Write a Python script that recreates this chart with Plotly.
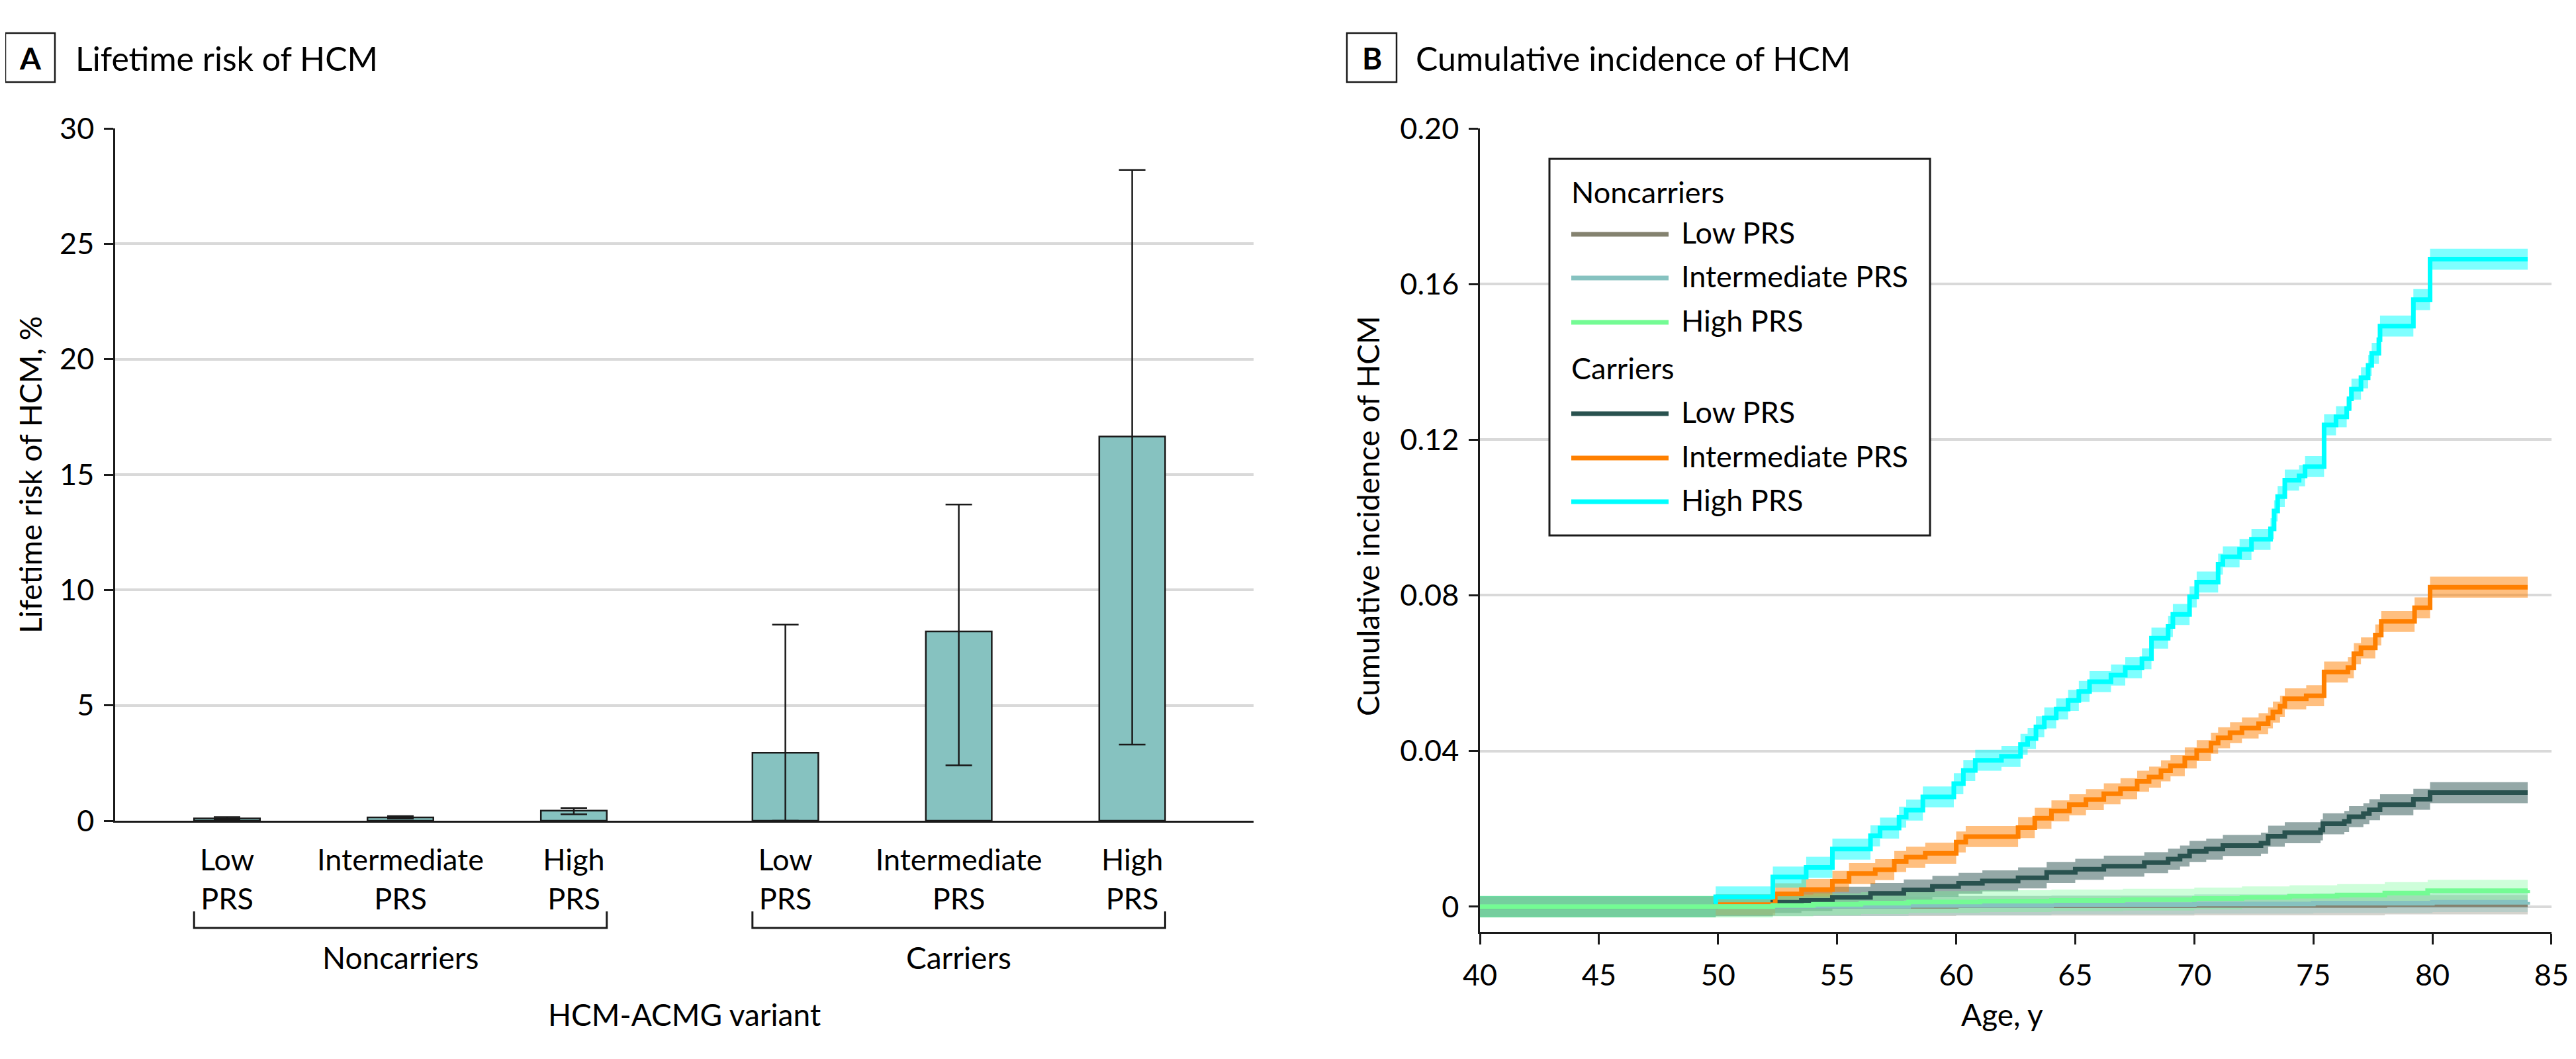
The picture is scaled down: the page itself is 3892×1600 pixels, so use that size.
import plotly.graph_objects as go

# page frame (reference pixels) and the body margin the browser adds around the plot
PAGE_W, PAGE_H = 3892, 1600
OFF = 8
W, H = PAGE_W - 2 * OFF, PAGE_H - 2 * OFF
FONT = "Lato"
BLACK = "#1a1a1a"

# ---------------- Panel A data ----------------
groups = ["Noncarriers", "Carriers"]
prs_labels = ["Low<br>PRS", "Intermediate<br>PRS", "High<br>PRS"]
risk_pct = [0.10, 0.14, 0.44, 2.95, 8.2, 16.65]
ci_low_pct = [0.05, 0.09, 0.28, 0.0, 2.4, 3.3]
ci_high_pct = [0.16, 0.20, 0.55, 8.5, 13.7, 28.2]
yticks_a = [0, 5, 10, 15, 20, 25, 30]

# ---------------- Panel B data ----------------
age_c_high = [40, 49.9, 52.3, 53.7, 54.8, 56.4, 56.8, 57.6, 57.9, 58.6, 59.9, 60.3, 60.8,
              61.9, 62.7, 63.0, 63.35, 63.7, 64.2, 64.7, 65.15, 65.6, 66.5, 67.1, 67.8,
              68.2, 68.9, 69.1, 69.8, 70.1, 71.0, 71.2, 71.9, 72.4, 73.2, 73.35, 73.5,
              73.8, 74.4, 74.65, 75.45, 75.95, 76.4, 76.5, 76.6, 77.0, 77.3, 77.45,
              77.75, 77.8, 79.2, 79.9, 84.0]
inc_c_high = [0, 0.0025, 0.0076, 0.0101, 0.0148, 0.0182, 0.0202, 0.023, 0.0248, 0.0282,
              0.0316, 0.035, 0.0376, 0.0386, 0.0417, 0.0432, 0.0462, 0.0485, 0.0508,
              0.053, 0.0553, 0.0578, 0.0595, 0.0614, 0.0637, 0.069, 0.072, 0.0751,
              0.0796, 0.0834, 0.088, 0.0899, 0.0918, 0.0944, 0.0971, 0.1017, 0.1054,
              0.1096, 0.1107, 0.1131, 0.1238, 0.1259, 0.128, 0.1305, 0.133, 0.1359,
              0.1391, 0.1422, 0.1457, 0.1492, 0.156, 0.1664, 0.1664]

age_c_int = [40, 49.9, 52.4, 53.5, 54.8, 55.5, 56.6, 57.4, 57.9, 58.7, 60.0, 60.4, 62.6,
             63.3, 64.0, 64.75, 65.45, 66.2, 66.9, 67.6, 68.1, 68.6, 69.0, 69.6, 70.1,
             70.7, 71.0, 71.5, 72.0, 72.7, 73.1, 73.3, 73.6, 73.8, 74.7, 75.45, 76.45,
             76.7, 77.0, 77.6, 77.85, 79.25, 79.9, 84.0]
inc_c_int = [0, 0.0005, 0.0033, 0.0044, 0.0065, 0.0085, 0.0095, 0.0116, 0.0127, 0.0137,
             0.0166, 0.018, 0.0203, 0.0227, 0.0246, 0.0262, 0.0275, 0.029, 0.0303,
             0.0322, 0.0333, 0.0349, 0.0362, 0.0382, 0.0401, 0.042, 0.0434, 0.0447,
             0.0459, 0.047, 0.0485, 0.050, 0.0515, 0.0534, 0.0542, 0.0603, 0.0614,
             0.065, 0.0665, 0.0698, 0.0733, 0.0768, 0.0821, 0.0821]

age_c_low = [40, 49.9, 52.3, 53.5, 54.8, 56.4, 57.8, 59.0, 60.1, 61.1, 62.6, 63.8, 65.0,
             66.2, 67.9, 68.9, 69.4, 69.8, 70.5, 71.2, 72.8, 73.1, 73.8, 75.3, 75.4,
             76.3, 76.5, 77.1, 77.35, 77.8, 79.2, 79.9, 84.0]
inc_c_low = [0, 0.0003, 0.0011, 0.0016, 0.0024, 0.0034, 0.0043, 0.0052, 0.006, 0.0066,
             0.0074, 0.0088, 0.0096, 0.0104, 0.0113, 0.0122, 0.013, 0.0142, 0.0148,
             0.0157, 0.0163, 0.0181, 0.019, 0.0197, 0.0213, 0.0219, 0.0231, 0.0239,
             0.0249, 0.0262, 0.0276, 0.0293, 0.0293]

age_nc_high = [40, 52.3, 54, 56, 58, 61, 64, 67, 70, 72, 74, 76, 78, 79.8, 84.0]
inc_nc_high = [0, 0.0003, 0.0006, 0.0009, 0.0012, 0.0014, 0.0016, 0.0018, 0.0021, 0.0024,
               0.0027, 0.003, 0.0035, 0.0041, 0.0042]

age_nc_int = [40, 52.3, 58, 64, 70, 75, 80, 84.0]
inc_nc_int = [0, 0.0001, 0.0003, 0.0005, 0.0007, 0.0009, 0.0011, 0.0012]

age_nc_low = [40, 52.3, 60, 70, 78, 84.0]
inc_nc_low = [0, 0.0001, 0.0002, 0.0003, 0.0005, 0.0005]

# half-width of the shaded confidence band
band_half = {"nc_low": 0.0025, "nc_int": 0.0025, "nc_high": 0.0028,
             "c_low": 0.0027, "c_int": 0.0027, "c_high": 0.0027}

yticks_b = [0, 0.04, 0.08, 0.12, 0.16, 0.20]
yticktext_b = ["0", "0.04", "0.08", "0.12", "0.16", "0.20"]
xticks_b = [40, 45, 50, 55, 60, 65, 70, 75, 80, 85]

COL = {"bar": "#86C2C0", "nc_low": "#84826F", "nc_int": "#86C2C0", "nc_high": "#74FB94",
       "c_low": "#29524F", "c_int": "#FF8000", "c_high": "#00FFFF"}


def px(x):
    return (x - OFF) / W


def py(y):
    return 1 - (y - OFF) / H


def rgba(hexc, a):
    h = hexc.lstrip("#")
    return "rgba(%d,%d,%d,%.2f)" % (int(h[0:2], 16), int(h[2:4], 16), int(h[4:6], 16), a)


fig = go.Figure()

# ---------------- Panel A ----------------
gap = 1.22
positions = []
for gi, g in enumerate(groups):
    for k in range(len(prs_labels)):
        positions.append(gi * (len(prs_labels) - 1 + gap) + k)
bar_w = 0.38

fig.add_trace(go.Bar(
    x=positions, y=risk_pct, width=bar_w, xaxis="x", yaxis="y",
    marker=dict(color=COL["bar"], line=dict(color=BLACK, width=2.5)),
    error_y=dict(type="data", symmetric=False,
                 array=[h - v for h, v in zip(ci_high_pct, risk_pct)],
                 arrayminus=[v - l for l, v in zip(ci_low_pct, risk_pct)],
                 color=BLACK, thickness=2.5, width=20),
    showlegend=False, hoverinfo="skip"))

# ---------------- Panel B ----------------
series = [
    ("c_low", age_c_low, inc_c_low),
    ("c_int", age_c_int, inc_c_int),
    ("c_high", age_c_high, inc_c_high),
    ("nc_low", age_nc_low, inc_nc_low),
    ("nc_int", age_nc_int, inc_nc_int),
    ("nc_high", age_nc_high, inc_nc_high),
]
for key, ages, inc in series:
    hw = band_half[key]
    fig.add_trace(go.Scatter(x=ages, y=[v + hw for v in inc], mode="lines",
                             line=dict(width=0, shape="hv"), xaxis="x2", yaxis="y2",
                             showlegend=False, hoverinfo="skip"))
    fig.add_trace(go.Scatter(x=ages, y=[max(v - hw, -0.003) for v in inc], mode="lines",
                             line=dict(width=0, shape="hv"), fill="tonexty",
                             fillcolor=rgba(COL[key], 0.5 if key.startswith("c") else 0.35),
                             xaxis="x2", yaxis="y2", showlegend=False, hoverinfo="skip"))
for key, ages, inc in series:
    fig.add_trace(go.Scatter(x=ages, y=inc, mode="lines",
                             line=dict(color=COL[key], width=7, shape="hv"),
                             xaxis="x2", yaxis="y2", showlegend=False, hoverinfo="skip"))

tickfont = dict(family=FONT, size=45, color="black")

fig.update_layout(
    template="none",
    width=W, height=H, margin=dict(l=0, r=0, t=0, b=0, pad=0, autoexpand=False),
    paper_bgcolor="white", plot_bgcolor="white",
    font=dict(family=FONT, color="black"),
    showlegend=False,
    xaxis=dict(domain=[px(174), px(1894)], range=[-0.645, 5.92], automargin=False,
               tickvals=positions, ticktext=prs_labels * len(groups),
               tickfont=tickfont, ticks="", showline=True, linecolor=BLACK, linewidth=3,
               showgrid=False, zeroline=False, ticklabelstandoff=18, fixedrange=True),
    yaxis=dict(domain=[py(1240), py(194)], range=[0, 30], tickvals=yticks_a, automargin=False,
               tickfont=tickfont, ticks="outside", ticklen=14, tickwidth=2.5, tickcolor=BLACK,
               showline=True, linecolor=BLACK, linewidth=2.5,
               showgrid=True, gridcolor="#D9D9D9", gridwidth=4, zeroline=False,
               ticklabelstandoff=6),
    xaxis2=dict(domain=[px(2236), px(3855)], range=[39.999, 85.001], tickvals=xticks_b,
                automargin=False, ticklabeloverflow="allow",
                tickfont=tickfont, ticks="outside", ticklen=16, tickwidth=2.5, tickcolor=BLACK,
                showline=True, linecolor=BLACK, linewidth=3, showgrid=False, zeroline=False,
                anchor="y2", ticklabelstandoff=8),
    yaxis2=dict(domain=[py(1408), py(194)], range=[-0.0065, 0.2], tickvals=yticks_b,
                automargin=False,
                ticktext=yticktext_b, tickfont=tickfont, ticks="outside", ticklen=14,
                tickwidth=2.5, tickcolor=BLACK, showline=True, linecolor=BLACK, linewidth=2.5,
                showgrid=True, gridcolor="#D9D9D9", gridwidth=4, zeroline=False,
                anchor="x2", ticklabelstandoff=6),
)

shapes = []
ann = []

# panel titles
for letter, bx, tx, text in [("A", 8, 112, "Lifetime risk of HCM"),
                             ("B", 2035, 2137, "Cumulative incidence of HCM")]:
    shapes.append(dict(type="rect", xref="paper", yref="paper",
                       x0=px(bx), x1=px(bx + 75), y0=py(124), y1=py(50),
                       line=dict(color=BLACK, width=2.5), fillcolor="white"))
    ann.append(dict(text="<b>%s</b>" % letter, x=px(bx + 37.5), y=py(88), xref="paper",
                    yref="paper", showarrow=False, xanchor="center", yanchor="middle",
                    font=dict(family=FONT, size=46, color="black")))
    ann.append(dict(text=text, x=px(tx), y=py(88), xref="paper", yref="paper",
                    showarrow=False, xanchor="left", yanchor="middle",
                    font=dict(family=FONT, size=50, color="black")))

# Panel A group brackets and labels
n = len(prs_labels)
for gi, g in enumerate(groups):
    gp = positions[gi * n:(gi + 1) * n]
    x0 = gp[0] - bar_w / 2
    x1 = gp[-1] + bar_w / 2
    shapes.append(dict(type="path", xref="x", yref="paper",
                       path="M %f,%f L %f,%f L %f,%f L %f,%f" % (x0, py(1377), x0, py(1402),
                                                                x1, py(1402), x1, py(1377)),
                       line=dict(color=BLACK, width=3)))
    ann.append(dict(text=g, x=sum(gp) / n, y=py(1446), xref="x", yref="paper",
                    showarrow=False, xanchor="center", yanchor="middle",
                    font=dict(family=FONT, size=46, color="black")))

ann.append(dict(text="HCM-ACMG variant", x=px((174 + 1894) / 2), y=py(1532), xref="paper",
                yref="paper", showarrow=False, xanchor="center", yanchor="middle",
                font=dict(family=FONT, size=46, color="black")))
ann.append(dict(text="Lifetime risk of HCM, %", x=px(45), y=py(717), xref="paper",
                yref="paper", showarrow=False, textangle=-90, xanchor="center",
                yanchor="middle", font=dict(family=FONT, size=46, color="black")))
ann.append(dict(text="Cumulative incidence of HCM", x=px(2066), y=py(780), xref="paper",
                yref="paper", showarrow=False, textangle=-90, xanchor="center",
                yanchor="middle", font=dict(family=FONT, size=46, color="black")))
ann.append(dict(text="Age, y", x=px(3025), y=py(1532), xref="paper",
                yref="paper", showarrow=False, xanchor="center", yanchor="middle",
                font=dict(family=FONT, size=46, color="black")))

# Panel B legend (drawn by hand)
shapes.append(dict(type="rect", xref="paper", yref="paper", x0=px(2341), x1=px(2916),
                   y0=py(809), y1=py(240), line=dict(color=BLACK, width=3),
                   fillcolor="white", layer="above"))
legend_rows = [("Noncarriers", None, 290), ("Low PRS", "nc_low", 351),
               ("Intermediate PRS", "nc_int", 417), ("High PRS", "nc_high", 484),
               ("Carriers", None, 556), ("Low PRS", "c_low", 622),
               ("Intermediate PRS", "c_int", 689), ("High PRS", "c_high", 755)]
for text, key, yy in legend_rows:
    if key is None:
        ann.append(dict(text=text, x=px(2372), y=py(yy), xref="paper", yref="paper",
                        showarrow=False, xanchor="left", yanchor="middle",
                        font=dict(family=FONT, size=45, color="black")))
    else:
        shapes.append(dict(type="line", xref="paper", yref="paper", x0=px(2374), x1=px(2521),
                           y0=py(yy + 3), y1=py(yy + 3), line=dict(color=COL[key], width=7),
                           layer="above"))
        ann.append(dict(text=text, x=px(2538), y=py(yy), xref="paper", yref="paper",
                        showarrow=False, xanchor="left", yanchor="middle",
                        font=dict(family=FONT, size=45, color="black")))

fig.update_layout(shapes=shapes, annotations=ann)
fig.write_html("out.html")
